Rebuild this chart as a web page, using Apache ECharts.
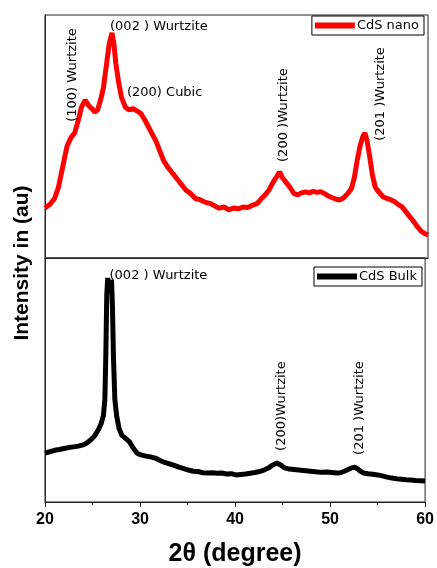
<!DOCTYPE html>
<html>
<head>
<meta charset="utf-8">
<script src="https://cdn.jsdelivr.net/npm/echarts@6/dist/echarts.min.js"></script>
<style>html,body{margin:0;padding:0;background:#fff;}#c{width:437px;height:568px;}</style>
</head>
<body>
<div id="c"></div>
<script>
// 2θ (degree) and intensity (a.u.)
const nanoData = [
[20.0,20.6],[20.5,22.0],[21.0,24.5],[21.4,29],[21.9,38.5],[22.3,46],[22.7,49.5],[23.1,51.5],[23.5,57],[23.8,62],
[24.2,65],[24.6,62.5],[24.9,61.5],[25.2,60],[25.5,61],[25.8,65],[26.1,70],[26.4,79],[26.7,88],[27.0,92.6],
[27.2,88],[27.4,80],[27.7,72],[28.0,66],[28.4,62],[28.8,61],[29.2,61.5],[29.6,60.5],[30.0,59.5],[30.4,57],
[30.8,54],[31.2,51],[31.6,48],[32.0,44],[32.4,40],[32.8,37.5],[33.2,35.5],[33.7,33],[34.2,30.5],[34.7,28],
[35.2,26.5],[35.7,24.5],[36.2,24],[36.7,23],[37.2,22.5],[37.7,21.5],[38.2,20.5],[38.7,21],[39.2,19.8],[39.7,20.6],
[40.2,20.2],[40.7,21],[41.2,20.8],[41.7,21.8],[42.2,22.5],[42.6,24.5],[43.0,26],[43.4,28],[43.8,31],[44.2,33.5],
[44.5,35.4],[44.8,33],[45.2,31],[45.6,29],[46.0,26.5],[46.4,26],[46.8,26.8],[47.2,27.2],[47.6,26.8],[48.0,27.4],
[48.4,27],[48.8,27.3],[49.2,26.5],[49.6,25.5],[50.0,24.8],[50.4,24.2],[50.8,23.9],[51.2,24.8],[51.6,26.5],[52.0,28.5],
[52.3,33],[52.6,40],[52.9,46],[53.2,50],[53.4,51.4],[53.6,49],[53.9,42],[54.2,34],[54.5,29],[54.9,27],
[55.3,25.2],[55.7,24.5],[56.1,24],[56.5,23.2],[56.9,22],[57.3,21],[57.7,19],[58.1,17],[58.5,15],[58.9,12.8],
[59.3,11],[59.7,10],[60.0,9.5]
];
const bulkData = [
[20.0,20.1],[20.5,20.6],[21.0,21.2],[21.5,21.5],[22.0,21.9],[22.5,22.3],[23.0,22.6],[23.5,22.9],[24.0,23.4],[24.4,24.2],
[24.8,25.4],[25.2,27],[25.6,29.5],[25.9,32],[26.15,35.5],[26.3,42],[26.4,60],[26.5,85],[26.6,91.8],[26.75,88],
[26.9,86],[27.0,91],[27.1,80],[27.2,60],[27.35,42],[27.55,35],[27.8,30],[28.1,27.2],[28.5,26],[28.9,24.6],
[29.3,22],[29.7,20],[30.1,19.3],[30.6,18.8],[31.1,18.5],[31.6,18],[32.1,17],[32.6,16.2],[33.1,15.6],[33.6,15],
[34.1,14.3],[34.6,13.7],[35.1,13.1],[35.6,12.6],[36.1,12.5],[36.6,12],[37.1,11.9],[37.6,12],[38.1,11.8],[38.6,11.9],
[39.1,11.5],[39.6,11.6],[40.1,11.1],[40.6,11.3],[41.1,11.5],[41.6,11.8],[42.1,12.1],[42.6,12.5],[43.1,13.2],[43.5,13.9],
[43.9,15],[44.4,16],[44.8,15.2],[45.2,14],[45.7,13.5],[46.2,13.3],[46.7,13.1],[47.2,12.9],[47.7,12.7],[48.2,12.5],
[48.7,12.3],[49.2,12.2],[49.7,12.3],[50.2,12.1],[50.7,11.9],[51.1,12],[51.5,12.6],[51.9,13.3],[52.3,14],[52.6,14.3],
[52.9,13.6],[53.2,12.6],[53.5,11.9],[54.0,11.6],[54.5,11.4],[55.0,11.1],[55.5,10.7],[56.0,10.2],[56.5,9.8],[57.0,9.5],
[57.5,9.3],[58.0,9.1],[58.5,9.0],[59.0,8.8],[59.5,8.7],[60.0,8.6]
];
// annotations: [2θ, intensity, text, vertical]
const nanoNotes = [
[26.79,95.1,'(002 ) Wurtzite',false],
[22.92,75.3,'(100) Wurtzite',true],
[28.56,67.9,'(200) Cubic',false],
[44.96,58.8,'(200 )Wurtzite',true],
[55.09,67.5,'(201 )Wurtzite',true]
];
const bulkNotes = [
[26.79,92.6,'(002 ) Wurtzite',false],
[44.86,39.3,'(200)Wurtzite',true],
[53.11,38.5,'(201 )Wurtzite',true]
];
const xTicks = {min:20, max:60, interval:10};
const seriesNames = ['CdS nano','CdS Bulk'];

const noteFont = {fontSize:13, fontFamily:'DejaVu Sans', color:'#000'};
function notes(arr){
  return {
    silent:true, symbol:'rect', symbolSize:0, animation:false,
    data: arr.map(a => ({
      coord:[a[0],a[1]],
      label: a[3]
        ? Object.assign({show:true, formatter:a[2], position:'inside', rotate:90, align:'center', verticalAlign:'middle'}, noteFont)
        : Object.assign({show:true, formatter:a[2], position:'right', distance:0, align:'left', verticalAlign:'middle'}, noteFont)
    }))
  };
}

const chart = echarts.init(document.getElementById('c'));
const axisLineStyle = {show:true, lineStyle:{color:'#222', width:1}};
chart.setOption({
  animation:false,
  backgroundColor:'#fff',
  grid:[
    {left:45, top:15, width:383, height:243, show:true, borderColor:'#222', borderWidth:1},
    {left:45, top:258, width:383, height:244, show:true, borderColor:'#222', borderWidth:1}
  ],
  xAxis:[
    {type:'value', gridIndex:0, min:xTicks.min, max:xTicks.max, interval:xTicks.interval,
     axisLine:axisLineStyle, axisTick:{show:false}, axisLabel:{show:false}, splitLine:{show:false}},
    {type:'value', gridIndex:1, min:xTicks.min, max:xTicks.max, interval:xTicks.interval,
     axisLine:axisLineStyle,
     axisTick:{show:true, length:5, lineStyle:{color:'#222'}},
     minorTick:{show:true, splitNumber:2, length:3, lineStyle:{color:'#222'}},
     axisLabel:{show:true, margin:10, fontSize:16, fontWeight:'bold', fontFamily:'Liberation Sans', color:'#000'},
     splitLine:{show:false},
     name:'2θ (degree)', nameLocation:'middle', nameGap:40,
     nameTextStyle:{fontSize:25, fontWeight:'bold', fontFamily:'Liberation Sans', color:'#000'}}
  ],
  yAxis:[
    {type:'value', gridIndex:0, min:0, max:100, axisLine:axisLineStyle, axisTick:{show:false}, axisLabel:{show:false}, splitLine:{show:false}},
    {type:'value', gridIndex:1, min:0, max:100, axisLine:axisLineStyle, axisTick:{show:false}, axisLabel:{show:false}, splitLine:{show:false}}
  ],
  legend:[
    {data:[seriesNames[0]], right:13, top:16, borderColor:'#000', borderWidth:1, borderRadius:0,
     padding:[3,5,3,3], itemWidth:40, itemHeight:6, icon:'rect', itemGap:0,
     textStyle:{fontSize:13, fontFamily:'DejaVu Sans', color:'#000', padding:[0,0,0,-3]}},
    {data:[seriesNames[1]], right:15, top:267, borderColor:'#000', borderWidth:1, borderRadius:0,
     padding:[3,5,3,3], itemWidth:40, itemHeight:6, icon:'rect', itemGap:0,
     textStyle:{fontSize:13, fontFamily:'DejaVu Sans', color:'#000', padding:[0,0,0,-3]}}
  ],
  graphic:[
    {type:'text', x:22, y:263, rotation:Math.PI/2,
     style:{text:'Intensity in (au)', x:0, y:0, align:'center', verticalAlign:'middle',
            font:'bold 21px "Liberation Sans"', fill:'#000'}}
  ],
  series:[
    {name:seriesNames[0], type:'line', xAxisIndex:0, yAxisIndex:0, data:nanoData, showSymbol:false,
     color:'#ff0000', lineStyle:{width:5, color:'#ff0000'}, markPoint:notes(nanoNotes)},
    {name:seriesNames[1], type:'line', xAxisIndex:1, yAxisIndex:1, data:bulkData, showSymbol:false,
     color:'#000', lineStyle:{width:5, color:'#000'}, markPoint:notes(bulkNotes)}
  ]
});
</script>
</body>
</html>
